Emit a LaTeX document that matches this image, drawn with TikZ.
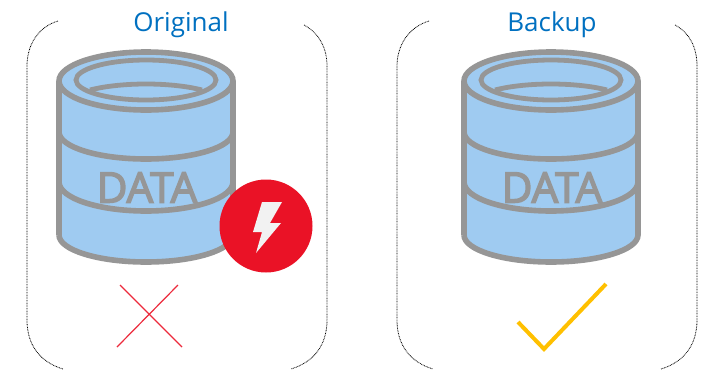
\documentclass[tikz,border=0pt]{standalone}
\usepackage{fontspec}
\setmainfont{Open Sans}
\newfontfamily\datafont[FakeBold=3.5]{Open Sans}
\usetikzlibrary{positioning,calc}
\definecolor{titleblue}{HTML}{0070C0}
\definecolor{dbfill}{HTML}{9FCBF1}
\definecolor{dbgray}{HTML}{969696}
\definecolor{alarmred}{HTML}{EA1226}
\definecolor{boltwhite}{HTML}{F2F2F2}
\definecolor{checkgold}{HTML}{FFC000}
\tikzset{
	panel/.style={dash pattern=on 0.6pt off 0.6pt, line width=0.6pt, black},
	dbline/.style={dbgray, line width=4.2pt},
	dbinner/.style={dbgray, line width=3.6pt},
	title/.style={text=titleblue, font=\fontsize{19.5}{22}\selectfont, inner sep=0pt},
	datalabel/.style={text=dbgray, font=\datafont\fontsize{31.5}{34}\selectfont, inner sep=0pt},
}
% one database drum, centred on x = #1
\newcommand{\database}[1]{
	\begin{scope}[xshift=#1*0.75pt]
		\fill[dbfill] (0,81) ellipse[x radius=87, y radius=29];
		\fill[dbfill] (0,235) ellipse[x radius=87, y radius=27];
		\fill[dbfill] (-87,81) rectangle (87,235);
		\draw[dbline] (-87,235) -- (-87,81) arc[start angle=180, end angle=-180, x radius=87, y radius=29];
		\draw[dbline] (87,81) -- (87,235) arc[start angle=0, end angle=180, x radius=87, y radius=27];
		% rings
		\draw[dbline] (-87,132) arc[start angle=180, end angle=0, x radius=87, y radius=27];
		\draw[dbline] (-87,182) arc[start angle=180, end angle=0, x radius=87, y radius=29];
		% inner opening
		\draw[dbinner] (0,80) ellipse[x radius=70, y radius=20];
		\draw[dbinner] (-56,90) .. controls (-25,82) and (25,82) .. (56,90);
	\end{scope}
}
\begin{document}
\begin{tikzpicture}[x=0.75pt,y=-0.75pt]
	\useasboundingbox (0,0) rectangle (707,369);

	% Original
	\draw[panel] (58,21) .. controls (38,27) and (27,45) .. (27,66) -- (27,320) .. controls (27,345) and (40,362) .. (63,369);
	\draw[panel] (304,25) .. controls (319,33) and (327,48) .. (327,66) -- (327,320) .. controls (327,345) and (314,362) .. (291,369);
	\database{146}
	\node[title] (origtitle) at (181,25) {Original};
	\node[datalabel] (origdata) at (147,187.5) {DATA};
	\node[circle, fill=alarmred, minimum size=93*0.75pt, inner sep=0pt] (alarm) at (266,226) {};
	\fill[boltwhite] (262,202) -- (282,202) -- (270,223) -- (281,223) -- (256,253) -- (262,232) -- (253,232) -- cycle;
	\coordinate (xa) at (120,285);
	\coordinate (xb) at (182,347);
	\coordinate (xc) at (178,285);
	\coordinate (xd) at (117,347);
	\draw[alarmred!90!white, line width=0.9pt] (xa) -- (xb);
	\draw[alarmred!90!white, line width=0.9pt] (xc) -- (xd);

	% Backup
	\draw[panel] (429,21) .. controls (409,27) and (397,45) .. (397,66) -- (397,320) .. controls (397,345) and (410,362) .. (433,369);
	\draw[panel] (675,25) .. controls (690,33) and (697,48) .. (697,66) -- (697,320) .. controls (697,345) and (684,362) .. (661,369);
	\database{551}
	\node[title] (backtitle) at (552,25) {Backup};
	\node[datalabel] (backdata) at (552,187.5) {DATA};
	\coordinate (ca) at (518,322);
	\coordinate (cb) at (544,349);
	\coordinate (cc) at (606,284);
	\draw[checkgold, line width=3pt] (ca) -- (cb) -- (cc);
\end{tikzpicture}
\end{document}
